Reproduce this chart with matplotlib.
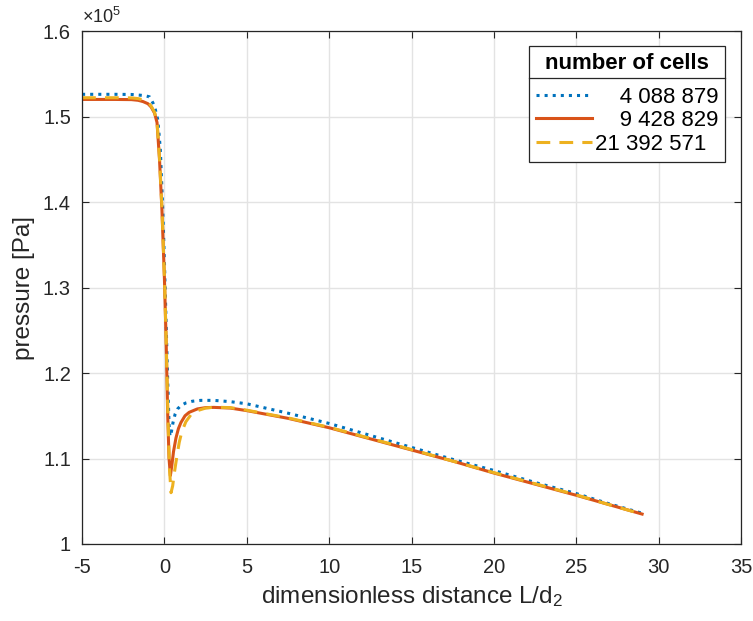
import matplotlib
matplotlib.use("Agg")
import matplotlib.pyplot as plt
from matplotlib.lines import Line2D
from matplotlib.ticker import FuncFormatter

plt.rcParams['font.family'] = ['Liberation Sans', 'DejaVu Sans']
plt.rcParams['mathtext.fontset'] = 'custom'
plt.rcParams['mathtext.rm'] = 'Liberation Sans'
plt.rcParams['mathtext.it'] = 'Liberation Sans'
plt.rcParams['axes.unicode_minus'] = False

# pressure in units of 1e5 Pa
x_coarse = [-5, -3, -2, -1.5, -1.2, -0.9, -0.7, -0.55, -0.4, -0.25, -0.1, 0, 0.1, 0.2, 0.28, 0.34,
            0.42, 0.52, 0.65, 0.8, 1.0, 1.3, 1.7, 2.2, 3.0, 4, 5, 7.5, 10, 12.5, 15, 17.5, 20,
            22.5, 25, 27, 29]
p_coarse = [1.526, 1.526, 1.5258, 1.525, 1.5245, 1.523, 1.516, 1.508, 1.496, 1.462, 1.39, 1.33,
            1.26, 1.19, 1.14, 1.126, 1.131, 1.142, 1.152, 1.158, 1.162, 1.165, 1.167, 1.168,
            1.168, 1.1665, 1.164, 1.153, 1.141, 1.127, 1.113, 1.099, 1.086, 1.072, 1.059,
            1.047, 1.036]

x_medium = [-5, -3, -2, -1.6, -1.3, -1.0, -0.8, -0.6, -0.45, -0.3, -0.15, 0, 0.1, 0.2, 0.28,
            0.36, 0.45, 0.55, 0.7, 0.85, 1.0, 1.25, 1.5, 2.0, 2.5, 3.0, 4, 5, 7.5, 10, 12.5,
            15, 17.5, 20, 22.5, 25, 27, 29]
p_medium = [1.520, 1.520, 1.5198, 1.519, 1.5175, 1.515, 1.511, 1.504, 1.493, 1.450, 1.390,
            1.310, 1.240, 1.150, 1.100, 1.080, 1.092, 1.108, 1.124, 1.135, 1.142, 1.150, 1.154,
            1.158, 1.1595, 1.1598, 1.159, 1.156, 1.147, 1.136, 1.123, 1.110, 1.097, 1.083,
            1.070, 1.057, 1.046, 1.035]

x_fine = [-5, -3, -2, -1.6, -1.3, -1.0, -0.8, -0.6, -0.45, -0.3, -0.15, 0, 0.1, 0.2, 0.3, 0.4,
          0.5, 0.6, 0.75, 0.9, 1.05, 1.3, 1.6, 2.0, 2.5, 3.0, 4, 5, 7.5, 10, 12.5, 15, 17.5,
          20, 22.5, 25, 27, 29]
p_fine = [1.522, 1.522, 1.5218, 1.521, 1.5195, 1.517, 1.512, 1.505, 1.494, 1.452, 1.392, 1.312,
          1.242, 1.16, 1.09, 1.06, 1.068, 1.083, 1.102, 1.119, 1.131, 1.143, 1.151, 1.156,
          1.159, 1.16, 1.1595, 1.1565, 1.1475, 1.1365, 1.1235, 1.1105, 1.097, 1.0835, 1.0705,
          1.0575, 1.046, 1.035]

labels = ['\u2007\u20074 088 879', '\u2007\u20079 428 829', '21 392 571']

fig = plt.figure(figsize=(7.53, 6.21), dpi=100)
ax = fig.add_axes([0.109, 0.124, 0.875, 0.826])

ax.plot(x_coarse, p_coarse, ':', color='#0072BD', lw=2.2, label=labels[0])
ax.plot(x_medium, p_medium, '-', color='#D95319', lw=2.2, label=labels[1])
ax.plot(x_fine, p_fine, '--', color='#EDB120', lw=2.2, dashes=(4.5, 3), label=labels[2])

ax.set_xlim(-5, 35)
ax.set_ylim(1.0, 1.6)
ax.set_xticks(range(-5, 36, 5))
ax.set_yticks([1.0, 1.1, 1.2, 1.3, 1.4, 1.5, 1.6])
ax.yaxis.set_major_formatter(FuncFormatter(lambda v, pos: '%g' % round(v, 2)))
ax.grid(True, color='#e3e3e3', lw=1)
ax.set_axisbelow(True)
ax.tick_params(direction='in', top=True, right=True, length=5, width=0.8,
               colors='#262626', labelsize=14.5)
ax.tick_params(axis='x', pad=10)
ax.tick_params(axis='y', pad=8)
for s in ax.spines.values():
    s.set_color('#262626')
    s.set_linewidth(0.9)

ax.set_xlabel('dimensionless distance L/d$_2$', fontsize=17.5, color='#262626', labelpad=5)
ax.set_ylabel('pressure [Pa]', fontsize=17.5, color='#262626', labelpad=6)
ax.text(0.0, 1.008, r'$\times10^{5}$', transform=ax.transAxes, fontsize=13,
        color='#262626', ha='left', va='bottom')

leg = ax.legend(loc='upper right', bbox_to_anchor=(0.976, 0.97), borderaxespad=0,
                title='number of cells', fontsize=16, fancybox=False, framealpha=1,
                edgecolor='#262626', handlelength=2.5, handletextpad=0.15,
                labelspacing=0.12, borderpad=0.3,
                title_fontproperties={'weight': 'bold', 'size': 16})
leg.get_frame().set_linewidth(0.9)
leg._legend_box.sep = 9

# separator line below the legend title, as in MATLAB
fig.canvas.draw()
r = fig.canvas.get_renderer()
lb = leg.get_window_extent(r)
tb = leg.get_title().get_window_extent(r)
ysep = tb.y0 - 4
inv = fig.transFigure.inverted()
(x0, y0), (x1, y1) = inv.transform([(lb.x0, ysep), (lb.x1, ysep)])
fig.add_artist(Line2D([x0, x1], [y0, y1], color='#262626', lw=0.9, transform=fig.transFigure))

fig.savefig('out.png', dpi=100)
